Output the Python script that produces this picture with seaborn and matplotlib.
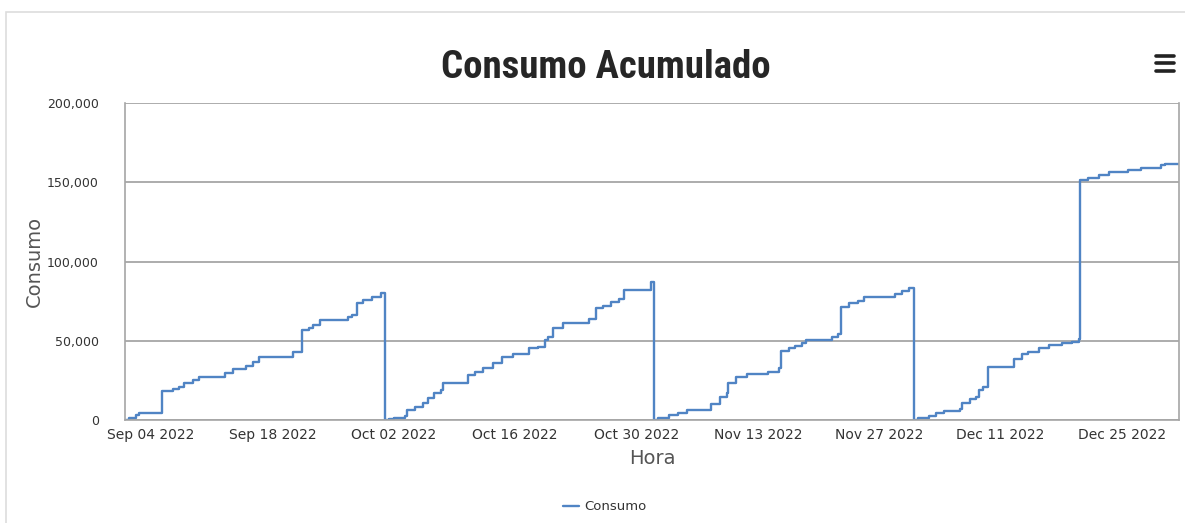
import pandas as pd
import seaborn as sns
import matplotlib.pyplot as plt
import matplotlib.dates as mdates
from matplotlib import font_manager
from matplotlib.lines import Line2D
from matplotlib.patches import Rectangle

# Cumulative consumption, step changes (resets each month)
hora = [
    "2022-09-01 00:00", "2022-09-01 12:00", "2022-09-02 06:00", "2022-09-02 14:00", "2022-09-02 20:00",
    "2022-09-05 07:00", "2022-09-06 12:00", "2022-09-07 05:00", "2022-09-07 19:00", "2022-09-08 19:00",
    "2022-09-09 14:00", "2022-09-12 14:00", "2022-09-13 10:00", "2022-09-15 00:00", "2022-09-15 17:00",
    "2022-09-16 12:00", "2022-09-20 10:00", "2022-09-21 10:00", "2022-09-22 05:00", "2022-09-22 17:00",
    "2022-09-23 12:00", "2022-09-26 17:00", "2022-09-27 05:00", "2022-09-27 17:00", "2022-09-28 10:00",
    "2022-09-29 12:00", "2022-09-30 12:00",
    "2022-10-01 00:00", "2022-10-01 12:00", "2022-10-02 00:00", "2022-10-03 07:00", "2022-10-03 12:00",
    "2022-10-04 12:00", "2022-10-05 10:00", "2022-10-05 22:00", "2022-10-06 14:00", "2022-10-07 10:00",
    "2022-10-07 17:00", "2022-10-10 14:00", "2022-10-11 10:00", "2022-10-12 07:00", "2022-10-13 12:00",
    "2022-10-14 12:00", "2022-10-15 17:00", "2022-10-17 14:00", "2022-10-18 14:00", "2022-10-19 12:00",
    "2022-10-19 19:00", "2022-10-20 10:00", "2022-10-21 12:00", "2022-10-24 12:00", "2022-10-25 07:00",
    "2022-10-26 02:00", "2022-10-27 00:00", "2022-10-28 00:00", "2022-10-28 12:00", "2022-10-31 17:00",
    "2022-11-01 00:00", "2022-11-01 12:00", "2022-11-02 19:00", "2022-11-03 19:00", "2022-11-04 19:00",
    "2022-11-07 14:00", "2022-11-08 14:00", "2022-11-09 10:00", "2022-11-09 14:00", "2022-11-10 12:00",
    "2022-11-11 17:00", "2022-11-14 05:00", "2022-11-15 10:00", "2022-11-15 17:00", "2022-11-16 14:00",
    "2022-11-17 07:00", "2022-11-18 02:00", "2022-11-18 14:00", "2022-11-21 12:00", "2022-11-22 07:00",
    "2022-11-22 14:00", "2022-11-23 12:00", "2022-11-24 14:00", "2022-11-25 07:00", "2022-11-28 19:00",
    "2022-11-29 14:00", "2022-11-30 10:00",
    "2022-12-01 00:00", "2022-12-01 12:00", "2022-12-02 17:00", "2022-12-03 14:00", "2022-12-04 12:00",
    "2022-12-06 07:00", "2022-12-06 12:00", "2022-12-07 10:00", "2022-12-08 05:00", "2022-12-08 12:00",
    "2022-12-09 00:00", "2022-12-09 14:00", "2022-12-12 14:00", "2022-12-13 10:00", "2022-12-14 05:00",
    "2022-12-15 10:00", "2022-12-16 14:00", "2022-12-18 02:00", "2022-12-19 05:00", "2022-12-20 00:00",
    "2022-12-20 05:00", "2022-12-21 02:00", "2022-12-22 07:00", "2022-12-23 12:00", "2022-12-25 17:00",
    "2022-12-27 05:00", "2022-12-29 12:00", "2022-12-29 22:00", "2022-12-31 14:00",
]
consumo = [
    0, 1500, 3000, 4300, 4500,
    18400, 19500, 20800, 23100, 25200,
    26900, 29800, 31900, 34000, 36700,
    39900, 43000, 56700, 57800, 59900,
    63000, 65100, 66000, 73700, 75600,
    77700, 80200,
    0, 600, 1000, 2500, 6300,
    8400, 10500, 13600, 16800, 18900,
    23100, 28300, 30400, 32500, 35700,
    39900, 41400, 45200, 46200, 50400,
    52500, 57800, 61300, 63400, 70400,
    71800, 74500, 76600, 81900, 87100,
    0, 1000, 3100, 4200, 6300,
    10100, 14700, 16800, 23100, 27300,
    29000, 30400, 32500, 43700, 45200,
    46600, 48300, 50400, 52100, 54200,
    71400, 73500, 75200, 77300, 79800,
    81500, 83000,
    0, 1000, 2500, 4600, 5700,
    6700, 10500, 13000, 14700, 18900,
    21000, 33200, 38200, 41600, 43000,
    45200, 47300, 48300, 49400, 50800,
    151600, 152900, 154400, 156500, 157500,
    159200, 160700, 161700, 161700,
]
y_ticks = [0, 50000, 100000, 150000, 200000]
x_ticks = ["2022-09-04", "2022-09-18", "2022-10-02", "2022-10-16", "2022-10-30",
           "2022-11-13", "2022-11-27", "2022-12-11", "2022-12-25"]

df = pd.DataFrame({"Hora": pd.to_datetime(hora), "Consumo": consumo})

sns.set_style("white")
plt.rcParams["font.family"] = ["DejaVu Sans"]

# pick a narrow heavy face for the title if one is installed
installed = {f.name for f in font_manager.fontManager.ttflist}
title_font = dict(family=["Roboto", "DejaVu Sans"], fontweight="black", fontsize=24)
for name in ["Liberation Sans Narrow", "DejaVu Sans Condensed", "Roboto Condensed"]:
    if name in installed:
        title_font = dict(family=[name, "DejaVu Sans"], fontweight="bold", fontsize=28)
        break

fig = plt.figure(figsize=(11.85, 5.23), dpi=100)
ax = fig.add_axes([0.1055, 0.197, 0.8895, 0.606])

sns.lineplot(data=df, x="Hora", y="Consumo", ax=ax, color="#5084c4", linewidth=1.7,
             drawstyle="steps-post", estimator=None, label="Consumo")

ax.set_xlim(df["Hora"].min(), df["Hora"].max())
ax.set_ylim(0, 200000)
ax.set_yticks(y_ticks)
ax.yaxis.set_major_formatter(plt.FuncFormatter(lambda v, p: f"{int(v):,}"))
ax.set_xticks(pd.to_datetime(x_ticks))
ax.xaxis.set_major_formatter(mdates.DateFormatter("%b %d %Y"))

ax.grid(axis="y", color="#a6a6a6", linewidth=1.3)
ax.grid(axis="x", visible=False)
for side in ["left", "bottom", "right"]:
    ax.spines[side].set_color("#a6a6a6")
    ax.spines[side].set_linewidth(1.2)
ax.spines["top"].set_visible(False)
ax.tick_params(axis="y", length=7, color="#a6a6a6", labelsize=9, labelcolor="#333333", pad=12)
ax.tick_params(axis="x", length=5, color="#a6a6a6", labelsize=10, labelcolor="#333333", pad=1)

ax.set_xlabel("Hora", fontsize=14, color="#555555", labelpad=5)
ax.set_ylabel("Consumo", fontsize=14, color="#555555", labelpad=2)

ax.legend(loc="center", bbox_to_anchor=(0.455, -0.274), frameon=False,
          fontsize=9.5, handlelength=1.2, handletextpad=0.4, labelcolor="#333333")

fig.text(0.511, 0.87, "Consumo Acumulado", ha="center", va="center",
         color="#262626", **title_font)

# menu icon
for yy in [0.893, 0.879, 0.865]:
    fig.add_artist(Line2D([0.9755, 0.9905], [yy, yy], color="#222222", linewidth=2.6,
                          transform=fig.transFigure))

# outer frame
fig.add_artist(Rectangle((0.005, -0.1), 1.2, 1.077, transform=fig.transFigure,
                         fill=False, edgecolor="#dddddd", linewidth=1.2))

fig.savefig("out.png", dpi=100)
